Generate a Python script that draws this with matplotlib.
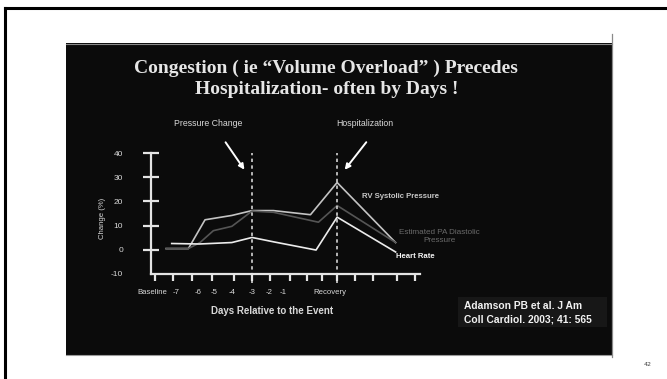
import matplotlib as mpl
mpl.use('Agg')
import matplotlib.pyplot as plt
from matplotlib.patches import Rectangle

""" values read off the slide """
# x positions are in 'tick units' (Baseline tick = 0), y in % change
tick_pos = [0, 0.97, 2.0, 3.08, 4.27, 5.24, 6.22, 7.30, 8.22, 9.03, 9.84, 10.81, 11.78, 13.08, 14.05]
label_pos = [-0.16, 1.12, 2.32, 3.2, 4.16, 5.22, 6.16, 6.9, 9.43]
label_txt = ['Baseline', '-7', '-6', '-5', '-4', '-3', '-2', '-1', 'Recovery']
ytick_vals = [-10, 0, 10, 20, 30, 40]

rv_x = [0.6, 1.8, 2.7, 4.15, 5.24, 6.4, 8.4, 9.84, 13.0]
rv_y = [0.5, 0.5, 12.4, 14.2, 16.2, 16.2, 14.5, 27.8, 3.0]
pad_x = [0.6, 1.8, 2.43, 3.15, 4.15, 5.24, 6.4, 8.83, 9.84, 13.0]
pad_y = [0.5, 0.5, 3.0, 7.9, 9.7, 16.0, 15.5, 11.4, 18.3, 3.0]
hr_x = [0.9, 2.4, 4.15, 5.24, 6.4, 8.7, 9.84, 13.0]
hr_y = [2.6, 2.4, 3.0, 5.1, 3.3, -0.1, 13.5, -0.9]

pressure_change = 5.24
hospitalization = 9.84

W, H = 667, 379
def fp(x, y):
	# pixel (from top-left) -> figure fraction
	return (x / float(W), 1 - y / float(H))

narrow = ['Liberation Sans Narrow', 'Liberation Sans', 'DejaVu Sans']
txtcol = '#d8d8d8'

fig = plt.figure(figsize=(W / 100., H / 100.), dpi=100)
fig.patch.set_facecolor('white')

# slide outline (cropped) + black panel
fig.add_artist(plt.Line2D([5 / W, 5 / W], [0, 1 - 8 / H], color='black', lw=2.2))
fig.add_artist(plt.Line2D([5 / W, 1], [1 - 8 / H, 1 - 8 / H], color='black', lw=2.2))
fig.add_artist(Rectangle(fp(66, 355), (612 - 66) / W, (355 - 43) / H, facecolor='#0b0b0b',
                         edgecolor='none', transform=fig.transFigure, zorder=0))
fig.add_artist(plt.Line2D([66 / W, 612 / W], [1 - 43.5 / H] * 2, color='#8a8a8a', lw=0.8))
fig.add_artist(plt.Line2D([66 / W, 612 / W], [1 - 355 / H] * 2, color='#9a9a9a', lw=0.8))
fig.add_artist(plt.Line2D([611.5 / W] * 2, [1 - 34 / H, 1 - 357 / H], color='#8a8a8a', lw=0.9))

# title
fig.text(*fp(326, 68), u'Congestion ( ie \u201cVolume Overload\u201d ) Precedes', ha='center', va='center',
         family='Liberation Serif', fontweight='bold', fontsize=14, color='#e6e6e6')
fig.text(*fp(327, 90), 'Hospitalization- often by Days !', ha='center', va='center',
         family='Liberation Serif', fontweight='bold', fontsize=14, color='#e6e6e6')

# chart axes
ax = fig.add_axes([151 / W, 1 - 274 / H, (420 - 151) / W, (274 - 153) / H])
ax.set_facecolor('none')
ax.set_xlim(-0.22, 14.32)
ax.set_ylim(-10, 40)
for s in ['top', 'right']:
	ax.spines[s].set_visible(False)
for s in ['left', 'bottom']:
	ax.spines[s].set_color('#e4e4e4')
	ax.spines[s].set_linewidth(1.6)

ax.xaxis.remove_overlapping_locs = False
ax.yaxis.remove_overlapping_locs = False
ax.set_yticks([0, 10, 20, 30, 40])
ax.set_yticklabels([])
ax.set_yticks(ytick_vals, [str(v) for v in ytick_vals], minor=True)
ax.set_xticks(tick_pos)
ax.set_xticklabels([])
ax.set_xticks(label_pos, label_txt, minor=True)
ax.tick_params(axis='y', which='major', direction='inout', length=11, width=1.6, color='#e4e4e4')
ax.tick_params(axis='x', which='major', direction='out', length=5, width=1.6, color='#e4e4e4')
ax.tick_params(axis='y', which='minor', length=0, pad=20, labelsize=6, labelcolor=txtcol)
ax.tick_params(axis='x', which='minor', length=0, pad=11, labelsize=5.6, labelcolor=txtcol)
for lab in ax.get_xticklabels(minor=True) + ax.get_yticklabels(minor=True):
	lab.set_family(narrow)

ax.plot(rv_x, rv_y, color='#c4c4c4', lw=1.2, clip_on=False)
ax.plot(pad_x, pad_y, color='#555555', lw=1.2, clip_on=False)
ax.plot(hr_x, hr_y, color='#ececec', lw=1.2, clip_on=False)

# event markers
ax.vlines([pressure_change, hospitalization], -13.7, 40, colors='#e4e4e4', lw=1.1,
          linestyles=(0, (2.2, 2.2)), clip_on=False)
ax.annotate('', xy=(246, 379 - 172), xytext=(224, 379 - 140), xycoords='figure pixels',
            textcoords='figure pixels',
            arrowprops=dict(arrowstyle='-|>', color='white', lw=1.4, mutation_scale=8))
ax.annotate('', xy=(343, 379 - 172), xytext=(368, 379 - 140), xycoords='figure pixels',
            textcoords='figure pixels',
            arrowprops=dict(arrowstyle='-|>', color='white', lw=1.4, mutation_scale=8))
fig.text(*fp(208, 123), 'Pressure Change', ha='center', va='center', family=narrow,
         fontsize=6.3, color=txtcol)
fig.text(*fp(365, 123), 'Hospitalization', ha='center', va='center', family=narrow,
         fontsize=6.3, color=txtcol)

# axis titles
fig.text(*fp(102, 218), 'Change (%)', rotation=90, ha='center', va='center', family=narrow,
         fontsize=5.6, color=txtcol)
fig.text(*fp(272, 311), 'Days Relative to the Event', ha='center', va='center', family=narrow,
         fontsize=7, fontweight='bold', color=txtcol)

# series labels
fig.text(*fp(362, 197), 'RV Systolic Pressure', ha='left', va='center', family=narrow,
         fontsize=5.6, fontweight='bold', color='#c8c8c8')
fig.text(*fp(439, 236), 'Estimated PA Diastolic\nPressure', ha='center', va='center',
         family=narrow, fontsize=5.9, color='#6a6a6a', linespacing=1.2)
fig.text(*fp(396, 257), 'Heart Rate', ha='left', va='center', family=narrow,
         fontsize=5.6, fontweight='bold', color='#f4f4f4')

# citation
fig.add_artist(Rectangle(fp(458, 327), (607 - 458) / W, (327 - 297) / H, facecolor='#171717',
                         edgecolor='none', transform=fig.transFigure, zorder=0.5))
fig.text(*fp(464, 306), 'Adamson PB et al. J Am', ha='left', va='center',
         family='Liberation Sans', fontsize=7.4, fontweight='bold', color='#f2f2f2')
fig.text(*fp(464, 319), 'Coll Cardiol. 2003; 41: 565', ha='left', va='center',
         family='Liberation Sans', fontsize=7.4, fontweight='bold', color='#f2f2f2')

fig.text(*fp(648, 365), '42', ha='center', va='center', fontsize=4.5, color='#444444')

plt.savefig('out.png', dpi=100)
